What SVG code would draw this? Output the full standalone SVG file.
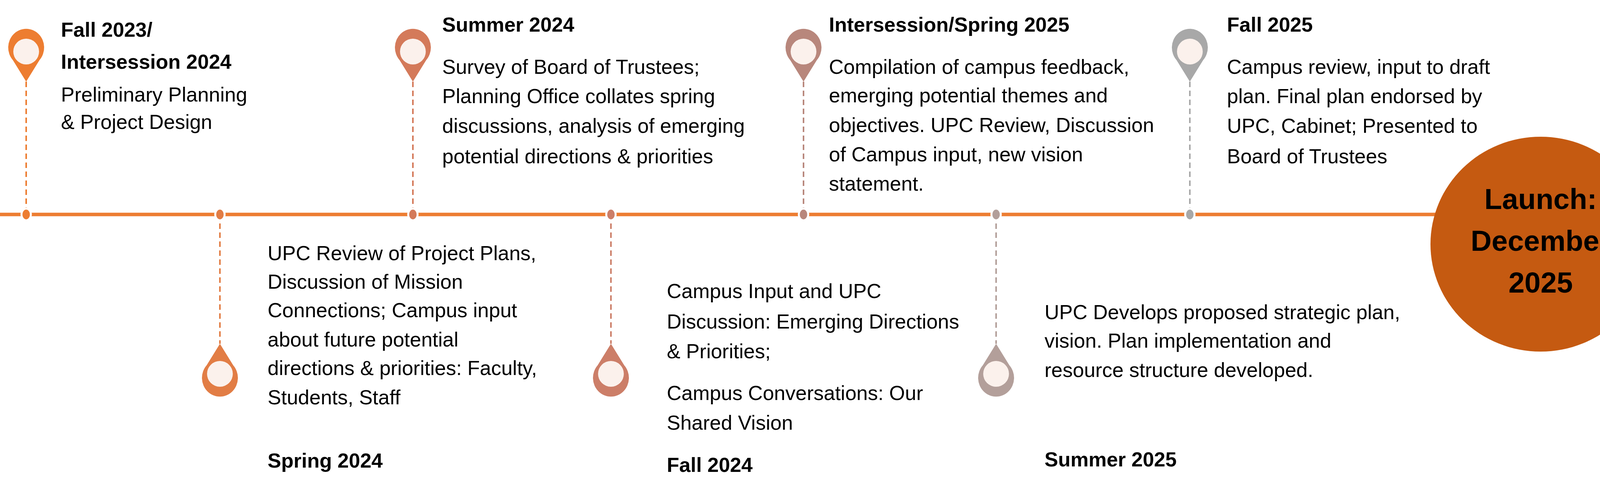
<svg xmlns="http://www.w3.org/2000/svg" width="4227" height="1262" viewBox="0 0 4227 1262">
<style>
text{font-family:"Liberation Sans",Arial,sans-serif;font-size:52px;fill:#000}
.t{font-weight:bold}
.l{font-weight:bold;font-size:74px;text-anchor:middle}
.in{fill:#FBF1EC}
.d{stroke-width:4;stroke-dasharray:14 9;fill:none}
</style>
<defs>
<path id="pin" d="M0,77 L-34,22 A46,48 0 1 1 34,22 Z"/>
</defs>
<rect width="4227" height="1262" fill="#fff"/>
<g id="connectors">
<line x1="0" y1="549" x2="3680" y2="549" stroke="#ED7D31" stroke-width="9"/>
<line class="d" x1="67" y1="209" x2="67" y2="549" stroke="#ED7D31"/>
<line class="d" x1="1057" y1="209" x2="1057" y2="549" stroke="#D47A5A"/>
<line class="d" x1="2057" y1="209" x2="2057" y2="549" stroke="#B8877C"/>
<line class="d" x1="3046" y1="209" x2="3046" y2="549" stroke="#A8A8A8"/>
<line class="d" x1="563" y1="549" x2="563" y2="880" stroke="#E27D45"/>
<line class="d" x1="1564" y1="549" x2="1564" y2="880" stroke="#CC7E68"/>
<line class="d" x1="2550" y1="549" x2="2550" y2="880" stroke="#B39F9A"/>
<g stroke="#fff" stroke-width="5">
<ellipse cx="67" cy="549" rx="12" ry="15" fill="#ED7D31"/>
<ellipse cx="563" cy="549" rx="12" ry="15" fill="#E27D45"/>
<ellipse cx="1057" cy="549" rx="12" ry="15" fill="#D47A5A"/>
<ellipse cx="1564" cy="549" rx="12" ry="15" fill="#CC7E68"/>
<ellipse cx="2057" cy="549" rx="12" ry="15" fill="#B8877C"/>
<ellipse cx="2550" cy="549" rx="12" ry="15" fill="#B39F9A"/>
<ellipse cx="3046" cy="549" rx="12" ry="15" fill="#A8A8A8"/>
</g>
</g>
<g id="n1">
<use href="#pin" transform="translate(67,132)" fill="#ED7D31"/><circle class="in" cx="67" cy="132" r="33"/>
<text class="t" x="156" y="94">Fall 2023/</text>
<text class="t" x="156" y="176">Intersession 2024</text>
<text x="156" y="260">Preliminary Planning</text>
<text x="156" y="330">&amp; Project Design</text>
</g>
<g id="n2">
<use href="#pin" transform="translate(563,957) scale(1,-1)" fill="#E27D45"/><circle class="in" cx="563" cy="957" r="33"/>
<text x="685" y="666">UPC Review of Project Plans,</text>
<text x="685" y="739">Discussion of Mission</text>
<text x="685" y="812">Connections; Campus input</text>
<text x="685" y="887">about future potential</text>
<text x="685" y="960">directions &amp; priorities: Faculty,</text>
<text x="685" y="1035">Students, Staff</text>
<text class="t" x="685" y="1197">Spring 2024</text>
</g>
<g id="n3">
<use href="#pin" transform="translate(1057,132)" fill="#D47A5A"/><circle class="in" cx="1057" cy="132" r="33"/>
<text class="t" x="1132" y="81">Summer 2024</text>
<text x="1132" y="189">Survey of Board of Trustees;</text>
<text x="1132" y="264">Planning Office collates spring</text>
<text x="1132" y="340">discussions, analysis of emerging</text>
<text x="1132" y="418">potential directions &amp; priorities</text>
</g>
<g id="n4">
<use href="#pin" transform="translate(1564,957) scale(1,-1)" fill="#CC7E68"/><circle class="in" cx="1564" cy="957" r="33"/>
<text x="1707" y="763">Campus Input and UPC</text>
<text x="1707" y="841">Discussion: Emerging Directions</text>
<text x="1707" y="917">&amp; Priorities;</text>
<text x="1707" y="1024">Campus Conversations: Our</text>
<text x="1707" y="1100">Shared Vision</text>
<text class="t" x="1707" y="1208">Fall 2024</text>
</g>
<g id="n5">
<use href="#pin" transform="translate(2057,132)" fill="#B8877C"/><circle class="in" cx="2057" cy="132" r="33"/>
<text class="t" x="2122" y="81">Intersession/Spring 2025</text>
<text x="2122" y="189">Compilation of campus feedback,</text>
<text x="2122" y="262">emerging potential themes and</text>
<text x="2122" y="338">objectives. UPC Review, Discussion</text>
<text x="2122" y="413">of Campus input, new vision</text>
<text x="2122" y="488">statement.</text>
</g>
<g id="n6">
<use href="#pin" transform="translate(2550,957) scale(1,-1)" fill="#B39F9A"/><circle class="in" cx="2550" cy="957" r="33"/>
<text x="2674" y="817">UPC Develops proposed strategic plan,</text>
<text x="2674" y="890">vision. Plan implementation and</text>
<text x="2674" y="965">resource structure developed.</text>
<text class="t" x="2674" y="1194">Summer 2025</text>
</g>
<g id="n7">
<use href="#pin" transform="translate(3046,132)" fill="#A8A8A8"/><circle class="in" cx="3046" cy="132" r="33" fill="#F4F4F4"/>
<text class="t" x="3141" y="81">Fall 2025</text>
<text x="3141" y="189">Campus review, input to draft</text>
<text x="3141" y="264">plan. Final plan endorsed by</text>
<text x="3141" y="340">UPC, Cabinet; Presented to</text>
<text x="3141" y="418">Board of Trustees</text>
</g>
<g id="launch">
<ellipse cx="3944" cy="625" rx="282" ry="275" fill="#C55A11"/>
<text class="l" x="3944" y="535">Launch:</text>
<text class="l" x="3944" y="642">December</text>
<text class="l" x="3944" y="749">2025</text>
</g>
</svg>
